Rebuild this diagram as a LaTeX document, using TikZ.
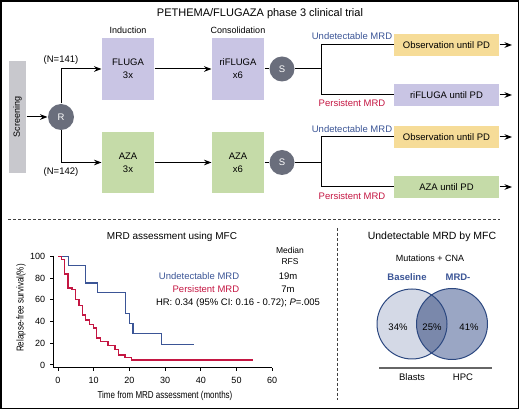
\documentclass[tikz,border=0pt]{standalone}
\usepackage{fontspec}
\setmainfont{Liberation Sans}
\newfontfamily\narrowfont[FakeStretch=0.8]{Liberation Sans}
\usepackage{tikz}
\usetikzlibrary{arrows.meta}
\definecolor{lav}{RGB}{201,197,228}
\definecolor{grn}{RGB}{197,219,168}
\definecolor{ylw}{RGB}{246,220,152}
\definecolor{scrgray}{RGB}{200,200,205}
\definecolor{dotgray}{RGB}{106,110,124}
\definecolor{mrdblue}{RGB}{59,85,150}
\definecolor{mrdred}{RGB}{196,22,66}
\definecolor{vennlight}{RGB}{212,217,230}
\definecolor{vennmid}{RGB}{154,166,196}
\definecolor{venndark}{RGB}{122,136,171}
\definecolor{vennline}{RGB}{44,72,128}

\begin{document}
\begin{tikzpicture}[x=1pt, y=-1pt, >=Stealth, line width=1pt,
    font=\fontsize{9.5}{11}\selectfont,
    armbox/.style={minimum width=52pt, minimum height=62pt, align=center, inner sep=0pt},
    pdbox/.style={minimum width=105pt, minimum height=22pt, inner sep=0pt},
    dot/.style={circle, fill=dotgray, text=white, minimum size=26pt, inner sep=0pt},
    tick/.style={font=\fontsize{9}{10}\selectfont},
    sep/.style={dashed, dash pattern=on 3pt off 2pt, line width=0.8pt, black!75}]

    \useasboundingbox (0,0) rectangle (520,411);
    \draw[line width=1.5pt] (1,1) rectangle (518.5,408.5);

    % trial scheme
    \node (title) at (260, 14) {\fontsize{11}{13}\selectfont PETHEMA/FLUGAZA phase 3 clinical trial};
    \node (ind) at (128, 30) {\fontsize{9}{11}\selectfont Induction};
    \node (cons) at (238, 30) {\fontsize{9}{11}\selectfont Consolidation};

    \node[fill=scrgray, minimum width=17pt, minimum height=112pt, inner sep=0pt] (scr) at (17.5, 117) {};
    \node[rotate=90, font=\fontsize{9}{11}\selectfont] at (scr.center) {Screening};
    \node[dot] (R) at (61, 117) {R};

    \node[armbox, fill=lav] (fluga) at (128, 69) {FLUGA\\[2pt]3x};
    \node[armbox, fill=lav] (rif) at (238, 69) {riFLUGA\\[2pt]x6};
    \node[armbox, fill=grn, minimum height=61pt] (aza) at (128, 162.5) {AZA\\[2pt]3x};
    \node[armbox, fill=grn, minimum height=61pt] (aza6) at (238, 162.5) {AZA\\[2pt]x6};

    \node[dot, minimum size=25pt] (S1) at (282, 69) {S};
    \node[dot, minimum size=25pt] (S2) at (282, 162.5) {S};
    \coordinate (sp1) at (321, 69);
    \coordinate (sp2) at (321, 162.5);

    \node[pdbox, fill=ylw] (obs1) at (446.5, 45) {Observation until PD};
    \node[pdbox, fill=lav] (rifpd) at (446.5, 95) {riFLUGA until PD};
    \node[pdbox, fill=ylw] (obs2) at (446.5, 137) {Observation until PD};
    \node[pdbox, fill=grn] (azapd) at (446.5, 187) {AZA until PD};
    \coordinate (e1) at (512, 45);
    \coordinate (e2) at (512, 95);
    \coordinate (e3) at (512, 137);
    \coordinate (e4) at (512, 187);

    \draw[->] (scr) -- (R);
    \draw[->] (R) |- (fluga) node[pos=0.5, above=1pt] {(N=141)};
    \draw[->] (R) |- (aza) node[pos=0.5, below=1pt] {(N=142)};
    \draw[->] (fluga) -- (rif);
    \draw[->] (aza) -- (aza6);
    \draw (rif) -- (S1);
    \draw (aza6) -- (S2);
    \draw (S1) -- (sp1);
    \draw (S2) -- (sp2);
    \draw (sp1) |- (obs1);
    \draw (sp1) |- (rifpd);
    \draw (sp2) |- (obs2);
    \draw (sp2) |- (azapd);
    \draw[->] (obs1) -- (e1);
    \draw[->] (rifpd) -- (e2);
    \draw[->] (obs2) -- (e3);
    \draw[->] (azapd) -- (e4);

    \node[text=mrdblue] (u1) at (352, 36) {Undetectable MRD};
    \node[text=mrdred] (p1) at (352, 103) {Persistent MRD};
    \node[text=mrdblue] (u2) at (352, 129) {Undetectable MRD};
    \node[text=mrdred] (p2) at (352, 196) {Persistent MRD};

    \draw[sep] (8, 219.5) -- (500, 219.5);
    \draw[sep] (337, 228) -- (337, 400);

    % survival plot
    \node (mrdt) at (172, 237) {\fontsize{10}{12}\selectfont MRD assessment using MFC};
    \node[align=center, font=\fontsize{8.5}{10.5}\selectfont] (med) at (290, 256) {Median\\RFS};
    \node[text=mrdblue, anchor=east] (lu) at (243, 276) {Undetectable MRD};
    \node[text=mrdred, anchor=east] (lp) at (243, 289) {Persistent MRD};
    \node (m19) at (288, 276) {19m};
    \node (m7) at (288, 289) {7m};
    \node (hr) at (238, 303) {HR: 0.34 (95\% CI: 0.16 - 0.72); \textit{P}=.005};

    \draw (53, 256) -- (53, 368) -- (272, 368);
    \foreach \v/\yy in {0/365, 20/343.3, 40/321.6, 60/299.9, 80/278.2, 100/256.5} {
        \draw (50, \yy) -- (53, \yy);
        \node[tick, anchor=east] at (49, \yy) {\v};
    }
    \foreach \m in {0,10,...,60} {
        \draw (58+3.57*\m, 368) -- (58+3.57*\m, 371);
        \node[tick] at (58+3.57*\m, 380) {\m};
    }
    \node[font=\narrowfont\fontsize{10}{12}\selectfont] (xl) at (165, 396) {Time from MRD assessment (months)};
    \node[rotate=90, font=\narrowfont\fontsize{10}{12}\selectfont] (yl) at (21, 308) {Relapse-free survival(\%)};

    \begin{scope}[shift={(58,365)}, x=3.57pt, y=1.085pt, line width=1.3pt]
        \draw[mrdblue] (0,100) -| (2.9,91.7) -| (7.8,75.5) -| (11,66.7) -| (19,47.5)
            -| (20,38.5) -| (21,29) -| (29,19) -- (38,19);
        \draw[mrdred] (0,100) -| (0.9,97) -| (1.8,84) -| (2.8,71) -| (3.9,69.5) -| (4.9,60.5)
            -| (5.9,55) -| (6.9,46) -| (7.8,41.5) -| (8.8,37.5) -| (9.9,34) -| (10.8,25)
            -| (12,21.5) -| (14,18) -| (16,14) -| (17,9.2) -| (18.8,7) -| (20.6,4.6) -- (54.5,4.6);
    \end{scope}

    % venn
    \node (vt) at (432, 237) {\fontsize{10.5}{12}\selectfont Undetectable MRD by MFC};
    \node[tick] (mc) at (430, 258) {Mutations + CNA};
    \node[text=mrdblue, font=\bfseries\fontsize{9.5}{11}\selectfont] (bl) at (407, 277) {Baseline};
    \node[text=mrdblue, font=\bfseries\fontsize{9.5}{11}\selectfont] (mn) at (458, 277) {MRD-};

    \fill[vennlight] (412, 324) circle (35);
    \fill[vennmid] (452, 324) circle (35.5);
    \begin{scope}
        \clip (412, 324) circle (35);
        \fill[venndark] (452, 324) circle (35.5);
    \end{scope}
    \draw[vennline, line width=1pt] (412, 324) circle (35);
    \draw[vennline, line width=1pt] (452, 324) circle (35.5);
    \node (v1) at (398, 327) {34\%};
    \node (v2) at (432, 327) {25\%};
    \node (v3) at (469, 327) {41\%};

    \draw[black!60, line width=1.3pt] (379, 368) -- (492, 368);
    \node (bla) at (412, 377.5) {Blasts};
    \node (hpc) at (463, 377.5) {HPC};

\end{tikzpicture}
\end{document}
